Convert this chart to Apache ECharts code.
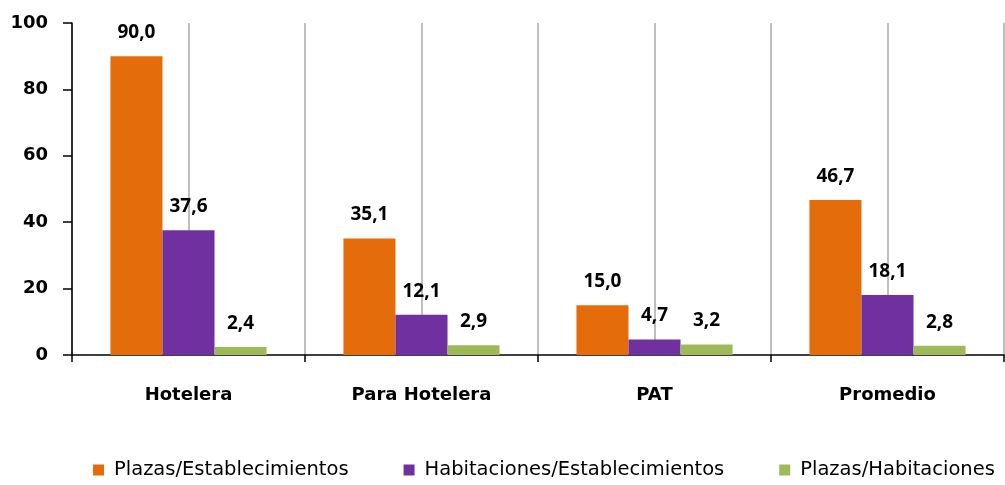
<!DOCTYPE html>
<html lang="en">
<head>
	<meta charset="UTF-8">
	<title>Plazas y habitaciones por establecimiento</title>
	<script src="https://cdn.jsdelivr.net/npm/echarts@6/dist/echarts.min.js"></script>
	<style>
		html, body { margin: 0; padding: 0; background: #fff; }
		#chart { width: 1005px; height: 485px; }
	</style>
</head>
<body>
	<div id="chart"></div>
	<script>
		var categories = ['Hotelera', 'Para Hotelera', 'PAT', 'Promedio'];
		var plazasEst = [90.0, 35.1, 15.0, 46.7];
		var habEst = [37.6, 12.1, 4.7, 18.1];
		var plazasHab = [2.4, 2.9, 3.2, 2.8];
		var seriesNames = ['Plazas/Establecimientos', 'Habitaciones/Establecimientos', 'Plazas/Habitaciones'];
		var yTicks = [0, 20, 40, 60, 80, 100];

		var font = 'DejaVu Sans';

		// etiqueta con coma decimal
		function label() {
			return {
				show: true,
				position: 'top',
				distance: 14,
				fontFamily: 'Noto Sans',
				fontWeight: 'bold',
				fontSize: 19,
				color: '#000',
				formatter: function (p) { return p.value.toFixed(1).replace('.', ','); }
			};
		}

		var option = {
			animation: false,
			grid: { left: 72, right: 1, top: 23, bottom: 130, containLabel: false },
			legend: {
				left: 88, top: 455,
				icon: 'rect', itemWidth: 11, itemHeight: 11, itemGap: 55,
				textStyle: { fontFamily: font, fontSize: 19.5, color: '#000', padding: [0, 0, 0, 5] },
				data: seriesNames
			},
			xAxis: [{
				type: 'category',
				data: categories,
				axisLine: { lineStyle: { color: '#000', width: 1.5 } },
				axisTick: { show: true, length: 7, lineStyle: { color: '#000', width: 1.5 } },
				axisLabel: { margin: 31, fontFamily: font, fontWeight: 'bold', fontSize: 18, color: '#000' },
				splitLine: { show: false }
			}, {
				// lineas verticales grises cada media categoria
				type: 'value', min: 0, max: 8, interval: 1, position: 'bottom',
				axisLine: { show: false }, axisTick: { show: false }, axisLabel: { show: false },
				splitLine: { show: true, lineStyle: { color: '#bfbfbf', width: 2 } }
			}],
			yAxis: {
				type: 'value', min: yTicks[0], max: yTicks[yTicks.length - 1], interval: 20,
				axisLine: { show: true, lineStyle: { color: '#000', width: 1.5 } },
				axisTick: { show: true, length: 9, lineStyle: { color: '#000', width: 1.5 } },
				axisLabel: { margin: 24, fontFamily: font, fontWeight: 'bold', fontSize: 18, color: '#000' },
				splitLine: { show: false },
				z: 5
			},
			series: [
				{ name: seriesNames[0], type: 'bar', data: plazasEst, barGap: '0%', barCategoryGap: '33%', itemStyle: { color: '#E46C0A' }, label: label() },
				{ name: seriesNames[1], type: 'bar', data: habEst, barGap: '0%', barCategoryGap: '33%', itemStyle: { color: '#7030A0' }, label: label() },
				{ name: seriesNames[2], type: 'bar', data: plazasHab, barGap: '0%', barCategoryGap: '33%', itemStyle: { color: '#9BBB59' }, label: label() }
			]
		};

		var myChart = echarts.init(document.getElementById('chart'));
		myChart.setOption(option);
	</script>
</body>
</html>
